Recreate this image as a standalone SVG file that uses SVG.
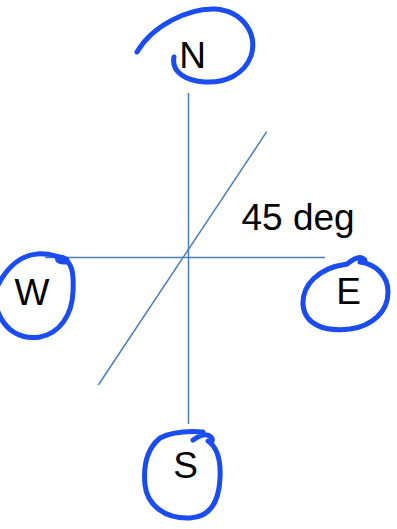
<svg xmlns="http://www.w3.org/2000/svg" width="397" height="529" viewBox="0 0 397 529">
<style>
.ax{stroke:#4a7ebb;stroke-width:1.5;fill:none}
.ring{stroke:#1a4cf0;stroke-width:5;fill:none;stroke-linecap:round;stroke-linejoin:round}
.lbl{font-family:"Liberation Sans",Arial,sans-serif;font-size:37px;fill:#000}
</style>
<rect width="397" height="529" fill="#fff"/>
<g id="connectors">
<line class="ax" x1="188.5" y1="93" x2="188.5" y2="424"/>
<line class="ax" x1="45" y1="257.5" x2="325" y2="257.5"/>
<line class="ax" x1="266.7" y1="131.7" x2="98.3" y2="385"/>
</g>
<g id="node-N">
<path class="ring" d="M137,52 C152,26 188,8 215,9 C243,11 258,34 251,56 C244,75 225,83 205,82 C186,81 171,72 174,57"/>
<text class="lbl" x="192.5" y="68" text-anchor="middle">N</text>
</g>
<g id="node-W">
<path class="ring" d="M-2,285 C8,266 22,255 37,254 C48,253 55,256 60,257 C67,258 70,262 64,262 C57,262 55,258 62,258 C72,262 74,272 73,292 C72,315 60,333 40,337 C20,340 5,330 -2,312"/>
<text class="lbl" x="32" y="305" text-anchor="middle">W</text>
</g>
<g id="node-E">
<path class="ring" d="M347,264 C352,260 358,256 362,258 C367,260 365,263 360,262 C375,264 388,275 388,292 C388,312 372,326 350,329 C325,332 305,325 303,305 C302,285 318,268 347,264"/>
<text class="lbl" x="348.5" y="304" text-anchor="middle">E</text>
</g>
<g id="node-S">
<path class="ring" d="M193,440 C200,435 207,433 211,437 C214,441 211,444 208,441 C218,448 221,460 220,478 C219,502 210,517 190,518 C165,519 147,505 145,485 C143,465 148,448 160,438 C172,432 190,431 203,432"/>
<text class="lbl" x="185.5" y="478" text-anchor="middle">S</text>
</g>
<g id="label-45">
<text class="lbl" x="241.5" y="230">45 deg</text>
</g>
</svg>
